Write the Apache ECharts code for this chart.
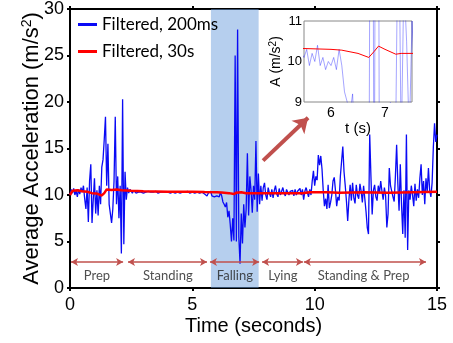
<!DOCTYPE html>
<html>
<head>
<meta charset="utf-8">
<script src="https://cdn.jsdelivr.net/npm/echarts@6/dist/echarts.min.js"></script>
<style>html,body{margin:0;padding:0;background:#fff;}#c{width:453px;height:343px;}</style>
</head>
<body>
<div id="c"></div>
<script>
// ---- data ----
const sampleStep = 0.05; // seconds between samples of the 200 ms filtered signal
const blueValues = [
 10.0,10.6,10.2,10.7,10.0,10.5,9.8,10.6,10.1,10.8,
 10.3,11.0,9.6,8.5,10.8,7.1,11.5,13.3,7.0,9.5,
 11.8,8.0,10.5,7.8,11.0,9.0,13.0,13.8,16.0,18.4,
 11.0,15.5,9.0,8.0,7.0,8.5,11.5,18.4,9.0,12.0,
 7.5,11.0,3.7,20.3,4.7,12.5,9.5,10.8,10.2,10.6,
 10.4,10.2,10.5,10.3,10.2,10.4,10.3,10.1,10.3,10.4,
 10.2,10.3,10.3,10.2,10.4,10.3,10.3,10.2,10.3,10.3,
 10.4,10.3,10.2,10.3,10.3,10.2,10.3,10.4,10.3,10.2,
 10.3,10.3,10.2,10.3,10.3,10.4,10.2,10.3,10.3,10.3,
 10.2,10.3,10.3,10.2,10.3,10.3,10.4,10.3,10.2,10.3,
 10.3,10.3,10.2,10.3,10.3,10.3,10.2,10.3,10.3,10.2,
 10.1,10.3,9.9,10.2,10.0,10.4,9.9,10.1,9.8,10.0,
 9.9,10.1,9.8,10.3,9.9,9.25,9.0,8.7,9.2,7.6,
 8.3,6.8,5.0,7.5,5.1,25.0,5.0,27.8,5.5,2.6,
 8.0,4.8,9.0,6.5,8.5,14.5,7.8,12.0,10.5,8.1,
 11.0,9.5,15.8,8.2,12.3,9.0,11.0,9.4,10.8,11.3,
 10.0,9.5,10.8,10.2,9.8,10.6,9.7,10.5,11.0,10.1,
 9.8,10.7,10.0,9.9,10.8,10.2,9.9,10.6,10.3,10.0,
 10.4,10.2,10.5,9.9,10.6,10.0,10.4,10.2,10.7,10.0,
 10.6,9.5,10.4,10.8,10.3,9.8,10.6,10.0,11.5,12.6,
 11.0,12.0,11.6,14.3,13.2,14.2,12.8,10.5,8.8,9.6,
 8.5,11.1,8.6,9.2,10.0,11.5,11.9,10.5,8.8,9.8,
 9.4,12.0,13.6,15.2,12.5,11.0,9.3,7.2,9.5,11.1,
 9.4,11.3,9.7,9.1,11.1,10.0,9.6,11.2,10.4,9.2,
 11.0,9.6,8.2,6.5,5.8,16.5,12.0,7.9,10.5,11.1,
 9.8,9.4,11.0,10.2,11.5,10.4,9.5,10.8,9.9,6.5,
 8.0,12.9,11.0,10.8,9.8,9.3,12.0,15.4,11.2,8.3,
 13.3,9.0,5.8,10.5,5.4,16.5,4.1,10.5,9.5,11.0,
 10.0,8.8,11.2,9.4,10.6,9.7,11.8,13.3,10.0,11.5,
 9.0,11.8,10.3,12.9,10.5,9.8,11.3,15.1,17.7,15.7,
 16.5
];
const redTimes  = [0.0,0.1,0.3,0.5,0.7,0.9,1.1,1.3,1.4,1.5,1.7,1.9,2.1,2.5,3.0,4.0,5.0,5.5,6.0,6.2,6.5,6.7,6.8,6.88,7.0,7.2,7.3,7.5,8.0,9.0,9.5,9.8,10.5,11.0,12.0,13.0,14.0,15.0];
const redValues = [10.0,10.45,10.5,10.4,10.35,10.2,10.15,9.95,10.2,10.6,10.55,10.6,10.5,10.45,10.4,10.35,10.35,10.32,10.3,10.28,10.2,10.1,10.25,10.38,10.3,10.18,10.2,10.2,10.2,10.2,10.2,10.3,10.3,10.25,10.3,10.25,10.3,10.35];
const regionNames  = ['Prep','Standing','Falling','Lying','Standing & Prep'];
const regionStart  = [0.04,2.37,5.72,7.85,9.56];
const regionEnd    = [2.17,5.60,7.73,9.52,14.55];
const regionCenter = [1.1,4.0,6.74,8.7,12.0];
const fallStart = 5.76, fallEnd = 7.71;
const xTicks = {min:0, max:15, step:5};
const yTicks = {min:0, max:30, step:5};
const seriesNames = ['Filtered, 200ms','Filtered, 30s'];

// ---- build ----
const blueData = blueValues.map((v,i)=>[+(i*sampleStep).toFixed(2), v]);
const redData = redTimes.map((t,i)=>[t, redValues[i]]);
const spanY = 2.8, labelY = 1.3;

const sans = 'Liberation Sans';
const cal = 'Lato';
const arrowCol = '#c0504d';

const mainX = {type:'value', gridIndex:0, min:xTicks.min, max:xTicks.max, interval:xTicks.step,
  axisLine:{onZero:false, lineStyle:{color:'#000', width:2}},
  axisTick:{inside:false, length:3, lineStyle:{color:'#000', width:2}},
  splitLine:{show:false}};
const mainY = {type:'value', gridIndex:0, min:yTicks.min, max:yTicks.max, interval:yTicks.step,
  axisLine:{onZero:false, lineStyle:{color:'#000', width:2}},
  axisTick:{inside:false, length:3, lineStyle:{color:'#000', width:2}},
  splitLine:{show:false}};

const option = {
  animation:false,
  backgroundColor:'#fff',
  grid:[
    {left:70, top:6, width:367, height:282},
    {left:304, top:21, width:108, height:81, show:true, backgroundColor:'#fff', borderColor:'#888', borderWidth:1}
  ],
  legend:{
    data:seriesNames, orient:'vertical', left:78, top:16, itemWidth:19, itemHeight:3, icon:'rect',
    itemGap:10, padding:0, textStyle:{fontSize:17, fontFamily:cal, color:'#000'}
  },
  xAxis:[
    Object.assign({}, mainX, {position:'bottom',
      axisLabel:{fontSize:18, color:'#000', margin:8, fontFamily:sans},
      name:'Time (seconds)', nameLocation:'middle', nameGap:28, nameMoveOverlap:false,
      nameTextStyle:{fontSize:20, color:'#000', fontFamily:sans}}),
    Object.assign({}, mainX, {position:'top', axisLabel:{show:false}}),
    {type:'value', gridIndex:1, min:5.5, max:7.5, interval:0.5,
      axisLine:{show:false}, axisTick:{show:false}, splitLine:{show:false},
      axisLabel:{fontSize:14, color:'#000', margin:4, fontFamily:sans,
        formatter:v=>Math.abs(v-Math.round(v))<1e-6 ? String(Math.round(v)) : ''},
      name:'t (s)', nameLocation:'middle', nameGap:16,
      nameTextStyle:{fontSize:15, color:'#000', fontFamily:sans}}
  ],
  yAxis:[
    Object.assign({}, mainY, {position:'left',
      axisLabel:{fontSize:18, color:'#000', margin:6, fontFamily:sans},
      name:'Average Acceleration (m/s{sup|2})', nameLocation:'middle', nameGap:26, nameRotate:90,
      nameMoveOverlap:false,
      nameTextStyle:{fontSize:22, color:'#000', fontFamily:sans,
        rich:{sup:{fontSize:14, color:'#000', fontFamily:sans, padding:[0,0,10,0]}}}}),
    Object.assign({}, mainY, {position:'right', axisLabel:{show:false}}),
    {type:'value', gridIndex:1, min:9, max:11, interval:1,
      axisLine:{show:false}, axisTick:{show:false}, splitLine:{show:false},
      axisLabel:{fontSize:13, color:'#000', margin:2, fontFamily:sans},
      name:'A (m/s{sup|2})', nameLocation:'middle', nameGap:16, nameRotate:90,
      nameTextStyle:{fontSize:14, color:'#000', fontFamily:sans,
        rich:{sup:{fontSize:10, color:'#000', fontFamily:sans, padding:[0,0,6,0]}}}}
  ],
  series:[
    {name:seriesNames[0], type:'line', xAxisIndex:0, yAxisIndex:0, data:blueData, symbol:'none',
      lineStyle:{color:'#0a0af5', width:1.3}, itemStyle:{color:'#0a0af5'}, z:2, silent:true},
    {name:seriesNames[1], type:'line', xAxisIndex:0, yAxisIndex:0, data:redData, symbol:'none',
      lineStyle:{color:'#ff0000', width:2.5}, itemStyle:{color:'#ff0000'}, z:3, silent:true},
    {name:'spans', type:'line', xAxisIndex:0, yAxisIndex:0, data:[], z:2, silent:true,
      markLine:{silent:true, animation:false, symbol:['arrow','arrow'], symbolSize:[6,7],
        lineStyle:{color:arrowCol, width:1.5, type:'solid'}, label:{show:false},
        data:regionStart.map((s,i)=>[{coord:[s,spanY]},{coord:[regionEnd[i],spanY]}])}},
    {name:'zoomArrow', type:'line', xAxisIndex:0, yAxisIndex:0, data:[], z:2, silent:true,
      markLine:{silent:true, animation:false, symbol:['none','arrow'], symbolSize:[14,14],
        lineStyle:{color:arrowCol, width:4, type:'solid'}, label:{show:false},
        data:[[{coord:[7.89,13.7]},{coord:[9.73,18.3]}]]}},
    {name:'regions', type:'scatter', xAxisIndex:0, yAxisIndex:0, symbolSize:0, silent:true, z:2,
      data:regionCenter.map((c,i)=>({value:[c,labelY], name:regionNames[i]})),
      label:{show:true, position:'inside', formatter:'{b}', fontSize:13, color:'#222', fontFamily:cal}},
    {name:'band', type:'line', xAxisIndex:0, yAxisIndex:0, data:[], z:10, silent:true,
      markArea:{silent:true, itemStyle:{color:'rgba(110,160,222,0.5)'},
        data:[[{xAxis:fallStart},{xAxis:fallEnd}]]}},
    {name:'inset200', type:'line', xAxisIndex:2, yAxisIndex:2, data:blueData, symbol:'none', clip:true,
      lineStyle:{color:'rgba(30,30,255,0.4)', width:1}, z:5, silent:true},
    {name:'inset30', type:'line', xAxisIndex:2, yAxisIndex:2, data:redData, symbol:'none', clip:true,
      lineStyle:{color:'#ff0000', width:1}, z:6, silent:true}
  ]
};
const chart = echarts.init(document.getElementById('c'), null, {renderer:'canvas'});
chart.setOption(option);
</script>
</body>
</html>
